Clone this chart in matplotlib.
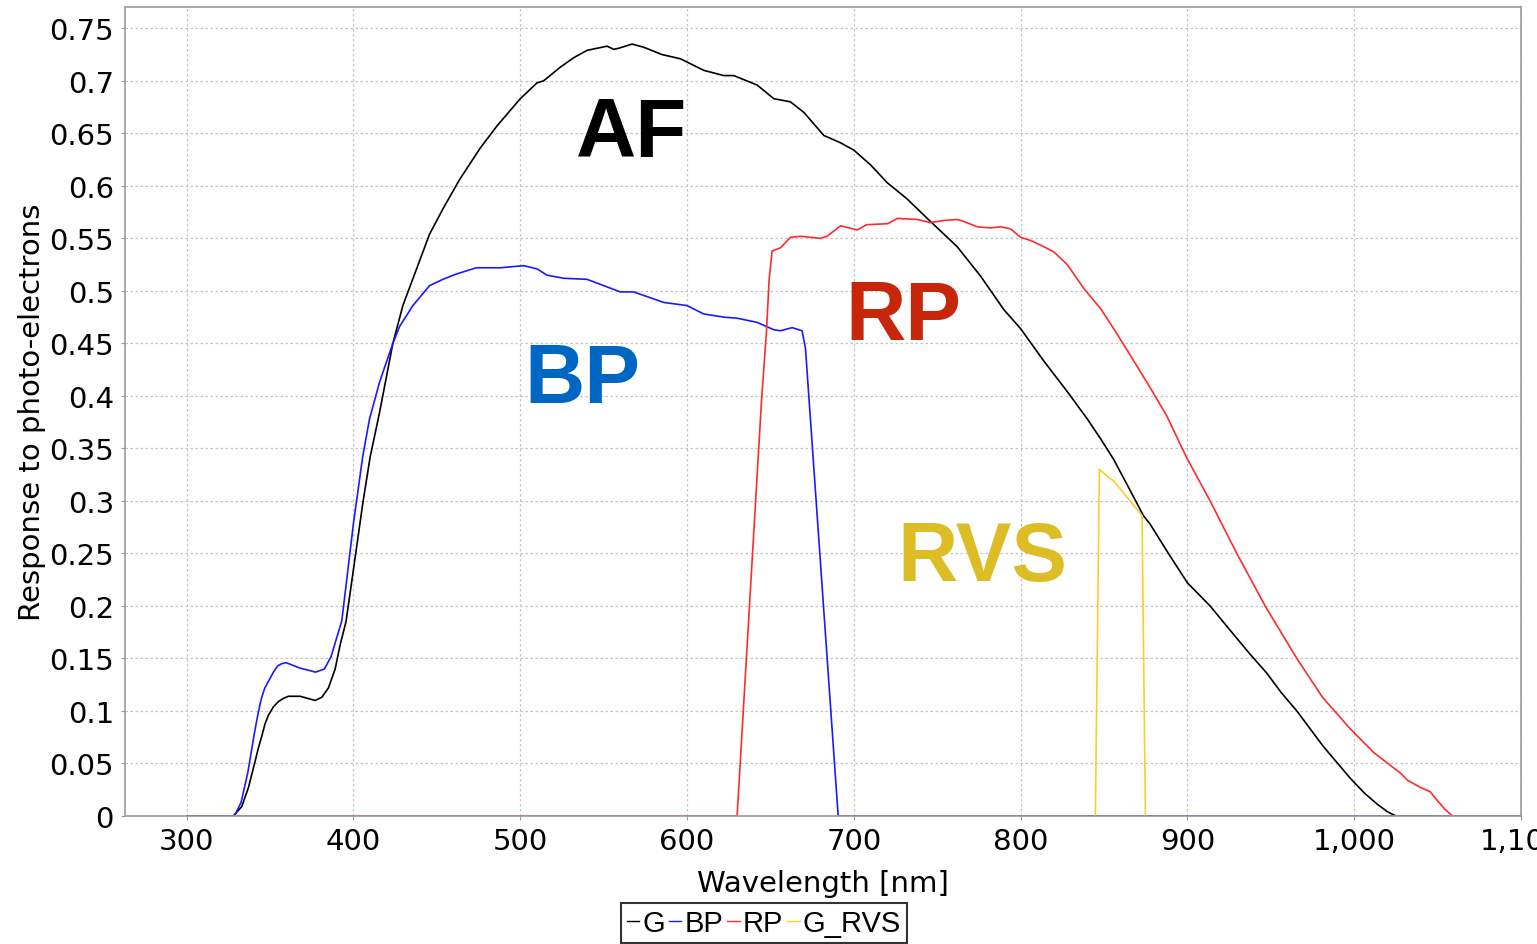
import matplotlib
matplotlib.use("Agg")
import matplotlib.pyplot as plt
from matplotlib.ticker import FuncFormatter, MultipleLocator
from matplotlib import font_manager as fm

# ---------------- data ----------------
g_wl = [300, 328, 333, 337, 341, 343, 345, 347, 349, 352, 355, 358, 361, 368, 377, 381,
        385, 389, 392, 395.5, 400, 405.6, 410, 415.6, 423.6, 429.6, 437.6, 445.6, 453.6,
        463.6, 476, 486, 500, 510, 514, 524, 532, 540, 546, 552, 556, 559, 567, 574,
        585, 596, 610, 622, 628, 642, 652, 662, 670, 682, 692, 700, 710, 720, 731.6,
        746, 762, 776, 790, 800, 814, 828, 840, 848, 855.6, 864, 873.6, 877.6, 888.6,
        900, 913.6, 925, 937.6, 947.6, 956, 965.6, 981.6, 997.6, 1006, 1014, 1020,
        1025, 1050]
g_val = [0, 0, 0.009, 0.027, 0.052, 0.065, 0.076, 0.088, 0.096, 0.104, 0.109, 0.112,
         0.114, 0.114, 0.110, 0.113, 0.122, 0.140, 0.163, 0.185, 0.235, 0.298, 0.342,
         0.384, 0.450, 0.486, 0.520, 0.554, 0.578, 0.606, 0.636, 0.657, 0.683, 0.698,
         0.700, 0.713, 0.722, 0.729, 0.731, 0.733, 0.730, 0.731, 0.735, 0.732, 0.725,
         0.721, 0.710, 0.705, 0.705, 0.696, 0.683, 0.680, 0.670, 0.648, 0.641, 0.634,
         0.620, 0.603, 0.588, 0.566, 0.542, 0.514, 0.482, 0.464, 0.433, 0.404, 0.378,
         0.359, 0.340, 0.315, 0.286, 0.278, 0.250, 0.222, 0.200, 0.178, 0.154, 0.136,
         0.118, 0.100, 0.066, 0.036, 0.022, 0.011, 0.004, 0, 0]

bp_wl = [300, 328.6, 332.6, 336.6, 340.6, 342.6, 344.6, 346.6, 349.6, 352, 354.6, 357,
         359.6, 367.6, 377.2, 382.6, 386.6, 389.6, 393, 400, 405.6, 409.6, 415.6, 423.6,
         427.6, 435.6, 445.6, 453.6, 461.6, 473.6, 488, 502, 510, 516, 526, 540, 550,
         560, 568, 586, 600, 610, 622, 630, 642, 652, 656, 663, 669, 671, 690.6, 1100]
bp_val = [0, 0, 0.013, 0.041, 0.079, 0.096, 0.111, 0.121, 0.130, 0.137, 0.143, 0.145,
          0.146, 0.141, 0.137, 0.140, 0.152, 0.168, 0.186, 0.279, 0.343, 0.378, 0.413,
          0.450, 0.466, 0.486, 0.505, 0.511, 0.516, 0.522, 0.522, 0.524, 0.521, 0.515,
          0.512, 0.511, 0.505, 0.499, 0.499, 0.489, 0.486, 0.478, 0.475, 0.474, 0.470,
          0.463, 0.462, 0.465, 0.462, 0.445, 0, 0]

rp_wl = [330, 630, 644.7, 647.6, 649.2, 651, 656, 662, 668, 680, 684, 692, 702, 707.6,
         720.4, 726, 738, 745.8, 754, 762, 766, 774, 782, 788, 794, 800, 806, 814, 820,
         828, 838, 848, 857, 866, 877.6, 887.6, 899.6, 913.6, 929.6, 946.6, 965.6, 981,
         997.6, 1012, 1027.6, 1032, 1040, 1045.6, 1048.6, 1054.6, 1057.6, 1059]
rp_val = [0, 0, 0.397, 0.461, 0.511, 0.538, 0.541, 0.551, 0.552, 0.550, 0.552, 0.562,
          0.558, 0.563, 0.564, 0.569, 0.568, 0.565, 0.567, 0.568, 0.566, 0.561, 0.560,
          0.561, 0.559, 0.551, 0.548, 0.542, 0.537, 0.525, 0.502, 0.483, 0.461, 0.438,
          0.408, 0.381, 0.341, 0.300, 0.250, 0.200, 0.150, 0.113, 0.083, 0.060, 0.041,
          0.034, 0.027, 0.023, 0.017, 0.006, 0.002, 0]

rvs_wl = [844.8, 847.2, 853.8, 855.8, 872.8, 874.8]
rvs_val = [0, 0.330, 0.321, 0.319, 0.286, 0]

series_names = ["G", "BP", "RP", "G_RVS"]
series_colors = ["#000000", "#1a1aff", "#ff2a2a", "#ffcc2e"]

band_labels = ["AF", "BP", "RP", "RVS"]
band_colors = ["#000000", "#0066c4", "#c8260a", "#dcbd26"]
band_x = [566.8, 537.4, 729.4, 776.8]
band_y = [0.6286, 0.394, 0.4543, 0.2245]

x_ticks = [300, 400, 500, 600, 700, 800, 900, 1000, 1100]

# ---------------- figure ----------------
def have(name):
    try:
        fm.findfont(fm.FontProperties(family=name), fallback_to_default=False)
        return True
    except Exception:
        return False

bold_font = "Liberation Sans" if have("Liberation Sans") else "DejaVu Sans"
leg_font = "Liberation Sans Narrow" if have("Liberation Sans Narrow") else bold_font

plt.rcParams['font.family'] = ['DejaVu Sans']

fig = plt.figure(figsize=(15.37, 9.45), dpi=100)
ax = fig.add_axes([125 / 1537, 128 / 945, (1521 - 125) / 1537, (817 - 8) / 945])

data = [(g_wl, g_val), (bp_wl, bp_val), (rp_wl, rp_val), (rvs_wl, rvs_val)]
handles = []
for (wl, val), name, col in zip(data, series_names, series_colors):
    h, = ax.plot(wl, val, color=col, lw=1.2, label=name, solid_joinstyle='round')
    handles.append(h)

for lab, col, x, y in zip(band_labels, band_colors, band_x, band_y):
    ax.text(x, y, lab, color=col, fontsize=60, fontweight='bold', family=bold_font,
            ha='center', va='baseline')

ax.set_xlim(263, 1100)
ax.set_ylim(0, 0.7703)
ax.set_xticks(x_ticks)
ax.yaxis.set_major_locator(MultipleLocator(0.05))
ax.xaxis.set_major_formatter(FuncFormatter(lambda v, p: f"{int(round(v)):,}"))
ax.yaxis.set_major_formatter(FuncFormatter(lambda v, p: f"{round(v, 2):g}"))

ax.grid(True, color='#c4c4c4', linestyle=(0, (2, 2)), linewidth=0.9)
ax.set_axisbelow(True)
for s in ax.spines.values():
    s.set_color('#9a9a9a')
    s.set_linewidth(1.2)
ax.tick_params(axis='both', length=3, color='#9a9a9a', labelsize=21, pad=5,
               labelcolor='black')

ax.set_xlabel("Wavelength [nm]", fontsize=21, labelpad=10)
ax.set_ylabel("Response to photo-electrons", fontsize=21, labelpad=2)

leg = fig.legend(handles=handles, labels=series_names, loc='lower center',
                 bbox_to_anchor=(0.497, 0.001), ncol=4, frameon=True, fancybox=False,
                 handlelength=0.42, handletextpad=0.1, columnspacing=0.15,
                 borderpad=0.2, borderaxespad=0.0,
                 prop=fm.FontProperties(family=leg_font, size=21))
leg.get_frame().set_edgecolor('black')
leg.get_frame().set_linewidth(1.5)
for lh in leg.get_lines():
    lh.set_linewidth(1.0)

fig.savefig("out.png", dpi=100)
